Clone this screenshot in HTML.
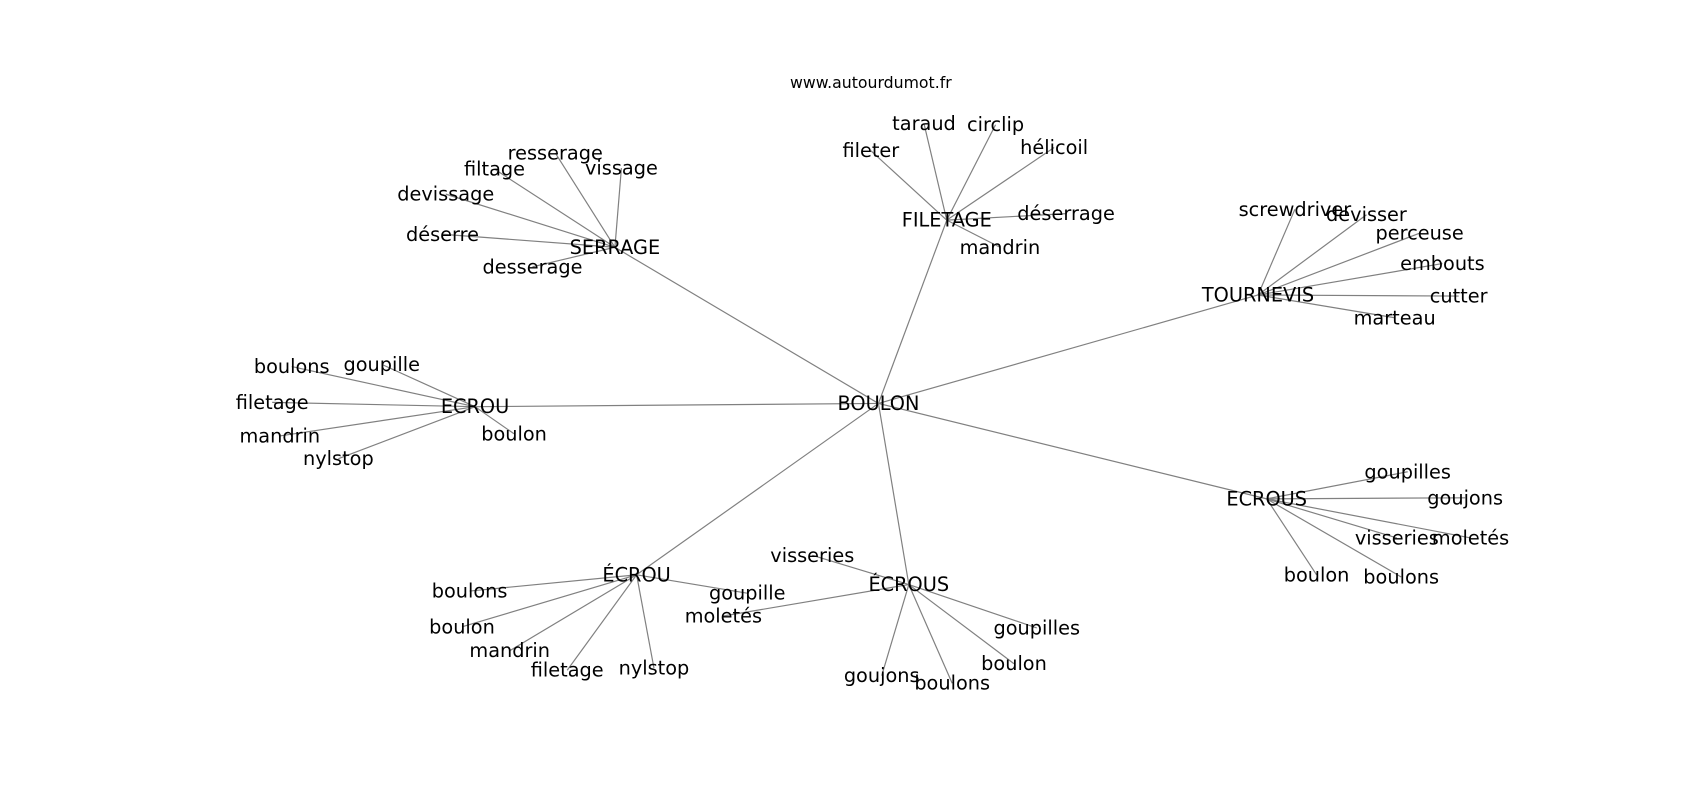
<!DOCTYPE html>
<html><head><meta charset="utf-8"><style>
html,body{margin:0;padding:0;background:#fff;width:1700px;height:800px;overflow:hidden}
text{font-family:"DejaVu Sans","Liberation Sans",sans-serif;font-size:17.8px;fill:#000;text-anchor:middle;dominant-baseline:central}
line{stroke:#808080;stroke-width:1.1}
</style></head><body>
<svg width="1700" height="800" xmlns="http://www.w3.org/2000/svg">
<g transform="scale(1.0845)">
<g id="edges"></g>
<g id="labels"></g>
<text x="803" y="76" style="font-size:14.5px">www.autourdumot.fr</text>
</g>
</svg>
<script>
const hubs={BOULON:[810,372],SERRAGE:[567,228],FILETAGE:[873,203],TOURNEVIS:[1160,272],ECROU:[438,375],ECROUS:[1168,460],"ÉCROU":[587,530],"ÉCROUS":[838,539]};
const kids={
SERRAGE:[["resserage",512,141],["vissage",573,155],["filtage",456,156],["devissage",411,179],["déserre",408,216],["desserage",491,246]],
FILETAGE:[["taraud",852,114],["circlip",918,115],["hélicoil",972,136],["fileter",803,139],["déserrage",983,197],["mandrin",922,228]],
TOURNEVIS:[["screwdriver",1194,193],["devisser",1260,198],["perceuse",1309,215],["embouts",1330,243],["cutter",1345,273],["marteau",1286,293]],
ECROU:[["boulons",269,338],["goupille",352,336],["filetage",251,371],["mandrin",258,402],["boulon",474,400],["nylstop",312,423]],
ECROUS:[["goupilles",1298,435],["goujons",1351,459],["visseries",1288,496],["moletés",1356,496],["boulon",1214,530],["boulons",1292,532]],
"ÉCROU":[["boulons",433,545],["goupille",689,547],["boulon",426,578],["mandrin",470,600],["filetage",523,618],["nylstop",603,616]],
"ÉCROUS":[["visseries",749,512],["moletés",667,568],["goupilles",956,579],["boulon",935,612],["goujons",813,623],["boulons",878,630]]};
const NS="http://www.w3.org/2000/svg",E=document.getElementById("edges"),L=document.getElementById("labels");
function ln(a,b){const l=document.createElementNS(NS,"line");l.setAttribute("x1",a[0]);l.setAttribute("y1",a[1]);l.setAttribute("x2",b[0]);l.setAttribute("y2",b[1]);E.appendChild(l);}
function tx(s,x,y){const t=document.createElementNS(NS,"text");t.setAttribute("x",x);t.setAttribute("y",y);t.textContent=s;L.appendChild(t);}
for(const h in hubs){if(h!=="BOULON")ln(hubs.BOULON,hubs[h]);tx(h,hubs[h][0],hubs[h][1]);}
for(const h in kids)for(const k of kids[h]){ln(hubs[h],[k[1],k[2]]);tx(k[0],k[1],k[2]);}
</script>
</body></html>
